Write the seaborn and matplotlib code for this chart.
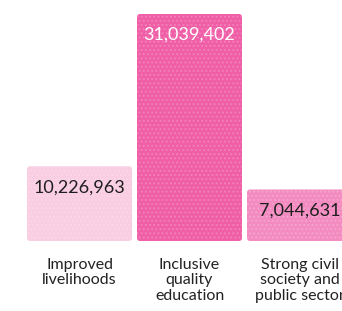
import matplotlib
matplotlib.use("Agg")
import matplotlib.pyplot as plt
from matplotlib.patches import FancyBboxPatch
import seaborn as sns
import pandas as pd

categories = ["Improved\nlivelihoods", "Inclusive\nquality\neducation", "Strong civil\nsociety and\npublic sector"]
values = [10226963, 31039402, 7044631]
value_labels = ["10,226,963", "31,039,402", "7,044,631"]
bar_colors = ["#f9cde2", "#ef5ea6", "#f38bc1"]
text_colors = ["#1e1e1e", "#ffffff", "#1e1e1e"]

df = pd.DataFrame({"category": categories, "value": values})

sns.set_style("white")
plt.rcParams["font.family"] = ["Lato", "DejaVu Sans"]
plt.rcParams["hatch.linewidth"] = 1.0

fig = plt.figure(figsize=(3.42, 3.11), dpi=100)
ax = fig.add_axes([0, 70 / 311, 1, 241 / 311])

sns.barplot(data=df, x="category", y="value", hue="category", palette=bar_colors,
            width=105 / 110, legend=False, ax=ax, saturation=1)

ytop = max(values) * 241 / 227
ax.set_xlim(-79.5 / 110, (342 - 79.5) / 110)
ax.set_ylim(0, ytop)
ax.axis("off")

# swap plain bars for rounded ones with a faint dotted texture
aspect = (ytop / 241) / (1 / 110)
for bar, col in zip(list(ax.patches), bar_colors):
    x, y = bar.get_x(), bar.get_y()
    w, h = bar.get_width(), bar.get_height()
    bar.remove()
    ax.add_patch(FancyBboxPatch((x, y), w, h,
                                boxstyle="round,pad=0,rounding_size=%f" % (3 / 110),
                                mutation_aspect=aspect, facecolor=col,
                                edgecolor=(1, 1, 1, 0.18), linewidth=0, hatch="...."))

px_y = ytop / 241
for i, (v, lab, tc) in enumerate(zip(values, value_labels, text_colors)):
    ax.text(i, v - 21 * px_y, lab, ha="center", va="center", fontsize=13, color=tc)
    ax.text(i, -17 * px_y, categories[i], ha="center", va="top", fontsize=11.5,
            color="#222222", linespacing=1.12, clip_on=False)

fig.savefig("out.png", dpi=100)
